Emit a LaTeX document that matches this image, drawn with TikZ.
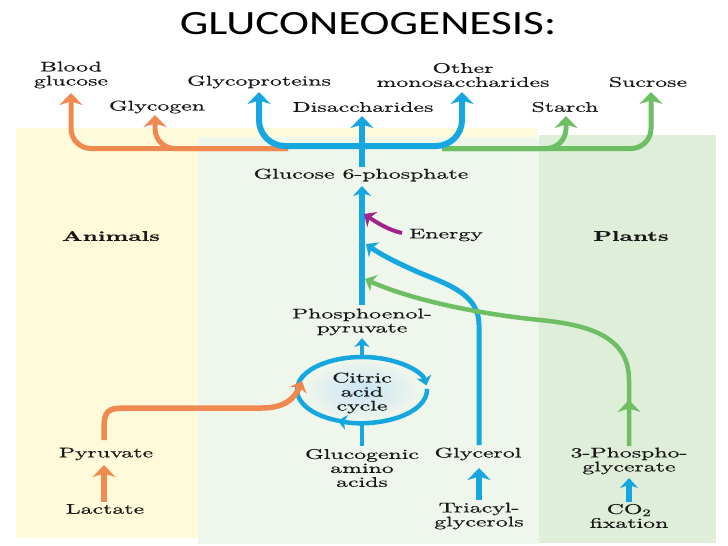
\documentclass[tikz,border=0pt]{standalone}
\usepackage{fontspec}
\usetikzlibrary{arrows.meta}
\newfontfamily\titlef{Carlito}[FakeStretch=1.33]
\newfontfamily\lmf{lmroman10-regular}[Extension=.otf, BoldFont=lmroman10-bold, FakeStretch=1.7, FakeBold=0.6]
\definecolor{corange}{RGB}{240,137,80}
\definecolor{cblue}{RGB}{22,167,224}
\definecolor{cgreen}{RGB}{110,190,100}
\definecolor{cmag}{RGB}{160,36,140}
\definecolor{byellow}{RGB}{255,251,218}
\definecolor{bgreenA}{RGB}{239,246,236}
\definecolor{bgreenB}{RGB}{222,238,217}
\definecolor{cglow}{RGB}{200,228,245}
\tikzset{
  lbl/.style={font=\lmf\fontsize{14}{14}\selectfont, align=center, inner sep=0pt, text=black!90},
  bl/.style={font=\lmf\bfseries\fontsize{14}{14}\selectfont, inner sep=0pt, text=black!90},
  bigtip/.style={-{Stealth[length=12pt,width=23pt,inset=3.5pt]}},
  midtip/.style={-{Stealth[length=10pt,width=18pt,inset=3pt]}},
  smalltip/.style={-{Stealth[length=9pt,width=15pt,inset=2.5pt]}},
  ow/.style={draw=corange,line width=6pt},
  bw/.style={draw=cblue,line width=6pt},
  gw/.style={draw=cgreen,line width=5pt},
}
\begin{document}
\begin{tikzpicture}[x=1pt,y=-1pt]
\path[use as bounding box] (0,0) rectangle (728,546);
% backgrounds
\fill[byellow] (16,128) rectangle (537,538);
\fill[bgreenA] (198,137) rectangle (539,544);
\fill[bgreenB] (539,135) rectangle (716,543);
% title
\node[font=\titlef\fontsize{34}{40}\selectfont, inner sep=0pt] (title) at (368,24) {GLUCONEOGENESIS:};
% labels
\node[lbl] (bg) at (71,75) {Blood\\glucose};
\node[lbl] (gp) at (259,82) {Glycoproteins};
\node[lbl] (om) at (463,75) {Other\\monosaccharides};
\node[lbl] (su) at (648,82) {Sucrose};
\node[lbl] (gy) at (157,107) {Glycogen};
\node[lbl] (di) at (363,107) {Disaccharides};
\node[lbl] (st) at (565,107) {Starch};
\node[lbl] (g6p) at (361,175) {Glucose 6-phosphate};
\node[bl] (ani) at (111,236) {Animals};
\node[bl] (pla) at (631,236) {Plants};
\node[lbl] (en) at (446,235) {Energy};
\node[lbl] (pep) at (362,322) {Phosphoenol-\\pyruvate};
\coordinate (cc) at (362,390);
\shade[inner color=cglow, outer color=bgreenA] (cc) ellipse [x radius=58, y radius=30];
\node[lbl] (cyc) at (362,393) {Citric\\acid\\cycle};
\node[lbl] (pyr) at (106,454) {Pyruvate};
\node[lbl] (glu) at (362,468) {Glucogenic\\amino\\acids};
\node[lbl] (gly) at (478,454) {Glycerol};
\node[lbl] (pg) at (629,461) {3-Phospho-\\glycerate};
\node[lbl] (lac) at (105,509) {Lactate};
\node[lbl] (tag) at (479,516) {Triacyl-\\glycerols};
\node[lbl] (co2) at (629,516) {CO\textsubscript{2}\\fixation};
% tip coordinates
\coordinate (tBG) at (71,93);
\coordinate (tGY) at (155,115);
\coordinate (tGP) at (259,92);
\coordinate (tDI) at (362,116);
\coordinate (tOM) at (462,92);
\coordinate (tST) at (566,116);
\coordinate (tSU) at (651,92);
\coordinate (oS) at (288,148.5);
\coordinate (gS) at (442,148.5);
\coordinate (hub) at (362,146);
\coordinate (g6pTop) at (362,167);
\coordinate (g6pBot) at (362,186);
\coordinate (pepBot) at (362,305);
% fans
\draw[ow, line width=5pt, bigtip, rounded corners=20pt] (oS) -| (tBG);
\draw[ow, line width=5pt, bigtip, rounded corners=20pt] (oS) -| (tGY);
\draw[gw, bigtip, rounded corners=20pt] (gS) -| (tST);
\draw[gw, bigtip, rounded corners=20pt] (gS) -| (tSU);
\draw[bw, bigtip, rounded corners=26pt] (hub) -| (tGP);
\draw[bw, bigtip, rounded corners=26pt] (hub) -| (tOM);
\draw[bw, bigtip] (g6pTop) -- (tDI);
% lower trunk
\draw[bw, midtip] (pepBot) -- (g6pBot);
% glycerol branch
\coordinate (glyTop) at (479,445);
\coordinate (tGlyc) at (366,244);
\draw[draw=cblue, line width=5pt, midtip] (glyTop) -- (479,325) .. controls (479,295) and (450,285) .. (420,273) .. controls (395,262) and (380,254) .. (tGlyc);
% energy
\coordinate (enTail) at (402,233);
\coordinate (tEn) at (364,214);
\draw[draw=cmag, line width=4pt, midtip] (enTail) .. controls (388,230) and (376,222) .. (tEn);
% green branch
\coordinate (pgTop) at (629,446);
\coordinate (tPg) at (365,279);
\draw[gw, line width=4.5pt, midtip] (pgTop) -- (629,380) .. controls (629,337) and (590,325) .. (540,320) .. controls (460,312) and (400,295) .. (tPg);
\draw[gw, line width=4.5pt, bigtip] (629,420) -- (629,400);
% citric acid cycle
\draw[draw=cblue, line width=4.5pt] ([shift={(110:65 and 33)}]cc) arc[start angle=110, end angle=205, x radius=65, y radius=33];
\draw[draw=cblue, line width=4.5pt, smalltip] ([shift={(200:65 and 33)}]cc) arc[start angle=200, end angle=352, x radius=65, y radius=33];
\draw[draw=cblue, line width=4.5pt, smalltip] ([shift={(358:65 and 33)}]cc) arc[start angle=358, end angle=472, x radius=65, y radius=33];
\coordinate (cycTop) at (362,357);
\coordinate (tPep) at (362,338);
\draw[draw=cblue, line width=4.5pt, smalltip] (cycTop) -- (tPep);
\coordinate (gluTop) at (362,446);
\coordinate (cycBot) at (362,423);
\draw[draw=cblue, line width=4.5pt] (gluTop) -- (cycBot);
% pyruvate to cycle
\coordinate (pyrTop) at (104,440);
\coordinate (tCyc) at (302,381);
\draw[draw=corange, line width=5.5pt, midtip] (pyrTop) -- (104,428) .. controls (104,411) and (108,408) .. (125,408) -- (262,408) .. controls (285,408) and (295,398) .. (tCyc);
% bottom arrows
\coordinate (lacTop) at (104,502);
\coordinate (tPyr) at (104,465);
\draw[ow, bigtip] (lacTop) -- (tPyr);
\coordinate (tagTop) at (479,500);
\coordinate (tGly) at (479,468);
\draw[bw, bigtip] (tagTop) -- (tGly);
\coordinate (co2Top) at (629,502);
\coordinate (tPg3) at (629,478);
\draw[bw, midtip] (co2Top) -- (tPg3);
\end{tikzpicture}
\end{document}
